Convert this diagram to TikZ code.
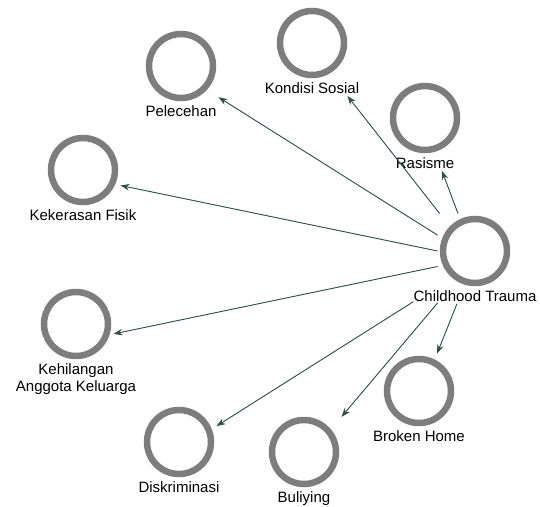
\documentclass[tikz,border=0pt]{standalone}
\usepackage{fontspec}
\setmainfont{Liberation Sans}
\usetikzlibrary{positioning,fit,arrows.meta}

\definecolor{ringgray}{RGB}{125,125,125}
\definecolor{linkgreen}{RGB}{45,82,72}

\begin{document}
\begin{tikzpicture}[
    x=1pt, y=-1pt,
    node distance=4pt,
    ring/.style={circle, draw=ringgray, line width=6.5pt, minimum size=64pt, inner sep=0pt},
    caption/.style={inner sep=0pt, font=\fontsize{15}{17}\selectfont, align=center},
    group/.style={rectangle, inner sep=2pt},
    link/.style={-{Stealth[length=9pt, width=6.5pt]}, draw=linkgreen, fill=linkgreen, line width=0.9pt}
]
\useasboundingbox (0,0) rectangle (540,506);

% central concept
\node[ring] (traumaC) at (475,251) {};
\node[caption, below=of traumaC] (traumaL) {Childhood Trauma};
\node[group, fit=(traumaC)(traumaL.south)] (trauma) {};

% concepts round it
\node[ring] (pelC) at (181,66) {};
\node[caption, below=of pelC] (pelL) {Pelecehan};
\node[group, fit=(pelC)(pelL.south)] (pel) {};

\node[ring] (konC) at (312,43) {};
\node[caption, below=of konC] (konL) {Kondisi Sosial};
\node[group, fit=(konC)(konL.south)] (kon) {};

\node[ring] (rasC) at (425,118) {};
\node[caption, below=of rasC] (rasL) {Rasisme};
\node[group, fit=(rasC)(rasL.south)] (ras) {};

\node[ring] (kekC) at (83,170) {};
\node[caption, below=of kekC] (kekL) {Kekerasan Fisik};
\node[group, fit=(kekC)(kekL.south)] (kek) {};

\node[ring] (kehC) at (76,324) {};
\node[caption, below=of kehC] (kehL) {Kehilangan\\Anggota Keluarga};
\node[group, fit=(kehC)(kehL.south)] (keh) {};

\node[ring] (disC) at (179,442) {};
\node[caption, below=of disC] (disL) {Diskriminasi};
\node[group, fit=(disC)(disL.south)] (dis) {};

\node[ring] (bulC) at (304,452) {};
\node[caption, below=of bulC] (bulL) {Buliying};
\node[group, fit=(bulC)(bulL.south)] (bul) {};

\node[ring] (broC) at (419,391) {};
\node[caption, below=of broC] (broL) {Broken Home};
\node[group, fit=(broC)(broL.south)] (bro) {};

% links
\draw[link] (trauma) -- (pel);
\draw[link] (trauma) -- (kon);
\draw[link] (trauma) -- (ras);
\draw[link] (trauma) -- (kek);
\draw[link] (trauma) -- (keh);
\draw[link] (traumaL.south west) -- (dis);
\draw[link] (trauma) -- (bul);
\draw[link] (trauma) -- (bro);

\end{tikzpicture}
\end{document}
